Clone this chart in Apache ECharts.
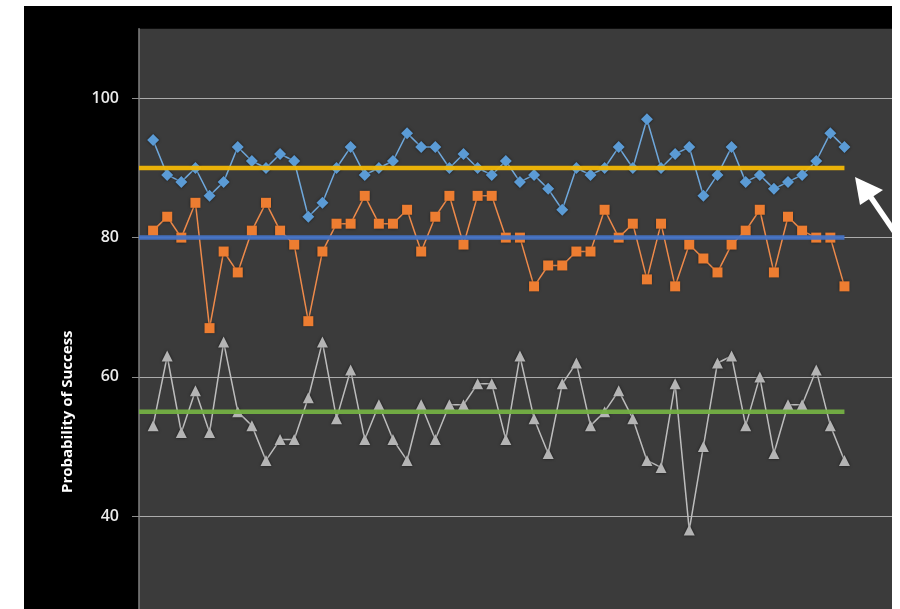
<!DOCTYPE html>
<html>
<head>
<meta charset="utf-8">
<script src="https://cdn.jsdelivr.net/npm/echarts@6/dist/echarts.min.js"></script>
<style>
    body { margin: 0; background: #fff; overflow: hidden; }
    #chart { position: absolute; left: 24px; top: 6px; width: 868px; height: 820px; background: #000; }
</style>
</head>
<body>
<div id="chart"></div>
<script>
// values, one per trial (1..50)
let blueVals = [94, 89, 88, 90, 86, 88, 93, 91, 90, 92, 91, 83, 85, 90, 93, 89, 90, 91,
    95, 93, 93, 90, 92, 90, 89, 91, 88, 89, 87, 84, 90, 89, 90, 93, 90, 97,
    90, 92, 93, 86, 89, 93, 88, 89, 87, 88, 89, 91, 95, 93];
let orangeVals = [81, 83, 80, 85, 67, 78, 75, 81, 85, 81, 79, 68, 78, 82, 82, 86, 82, 82,
    84, 78, 83, 86, 79, 86, 86, 80, 80, 73, 76, 76, 78, 78, 84, 80, 82, 74,
    82, 73, 79, 77, 75, 79, 81, 84, 75, 83, 81, 80, 80, 73];
let grayVals = [53, 63, 52, 58, 52, 65, 55, 53, 48, 51, 51, 57, 65, 54, 61, 51, 56, 51,
    48, 56, 51, 56, 56, 59, 59, 51, 63, 54, 49, 59, 62, 53, 55, 58, 54, 48,
    47, 59, 38, 50, 62, 63, 53, 60, 49, 56, 56, 61, 53, 48];
let targets = [90, 80, 55];
let targetColors = ['#f2b705', '#4472c4', '#74b043'];
let yTicks = [0, 20, 40, 60, 80, 100];
let yTitle = 'Probability of Success';
let lastTrial = blueVals.length;

function pts(arr) {
    return arr.map(function (v, i) { return [i + 1, v]; });
}

function dataSeries(arr, color, lineColor, symbol, size) {
    return {
        type: 'line',
        data: pts(arr),
        symbol: symbol,
        symbolSize: size,
        itemStyle: { color: color, shadowBlur: 3, shadowColor: 'rgba(0,0,0,0.6)' },
        lineStyle: { color: lineColor, width: 1.5 },
        z: 2
    };
}

let series = [
    dataSeries(blueVals, '#5b9bd5', '#6fa8dc', 'diamond', 12),
    dataSeries(orangeVals, '#ed7d31', '#ee8a4a', 'rect', 10),
    dataSeries(grayVals, '#b4b4b4', '#bdbdbd', 'triangle', 11)
];
targets.forEach(function (t, k) {
    series.push({
        type: 'line',
        data: [[0, t], [lastTrial, t]],
        symbol: 'none',
        lineStyle: { color: targetColors[k], width: 4.5, opacity: 0.95 },
        z: 3
    });
});

let MyChart = echarts.init(document.getElementById('chart'));
let option = {
    animation: false,
    backgroundColor: '#000',
    grid: {
        left: 115,
        top: 22.7,
        right: 0,
        height: 766,
        show: true,
        backgroundColor: '#3b3b3b',
        borderWidth: 0
    },
    xAxis: {
        type: 'value',
        min: 0,
        max: 53.37,
        show: false
    },
    yAxis: {
        type: 'value',
        min: 0,
        max: 110,
        interval: 20,
        name: yTitle,
        nameLocation: 'middle',
        nameGap: 64,
        nameTextStyle: { color: '#fff', fontSize: 15, fontWeight: 'bold', fontFamily: 'Open Sans' },
        axisLine: { show: true, lineStyle: { color: '#808080', width: 1.5 } },
        axisTick: { show: true, length: 7, lineStyle: { color: '#8c8c8c' } },
        axisLabel: {
            color: '#ececec',
            fontSize: 16,
            fontWeight: 600,
            fontFamily: 'Open Sans',
            margin: 20,
            showMaxLabel: false,
            formatter: function (v) { return yTicks.indexOf(v) >= 0 ? v : ''; }
        },
        splitLine: { show: true, showMaxLine: false, lineStyle: { color: '#acacac', width: 1.2 } }
    },
    series: series,
    graphic: [
        {
            type: 'line',
            shape: { x1: 846, y1: 190, x2: 872, y2: 228 },
            style: { stroke: '#fff', lineWidth: 5.5 },
            z: 10
        },
        {
            type: 'polygon',
            shape: { points: [[831, 171], [859, 184], [836, 199]] },
            style: { fill: '#fff' },
            z: 10
        }
    ]
};
MyChart.setOption(option);
</script>
</body>
</html>
